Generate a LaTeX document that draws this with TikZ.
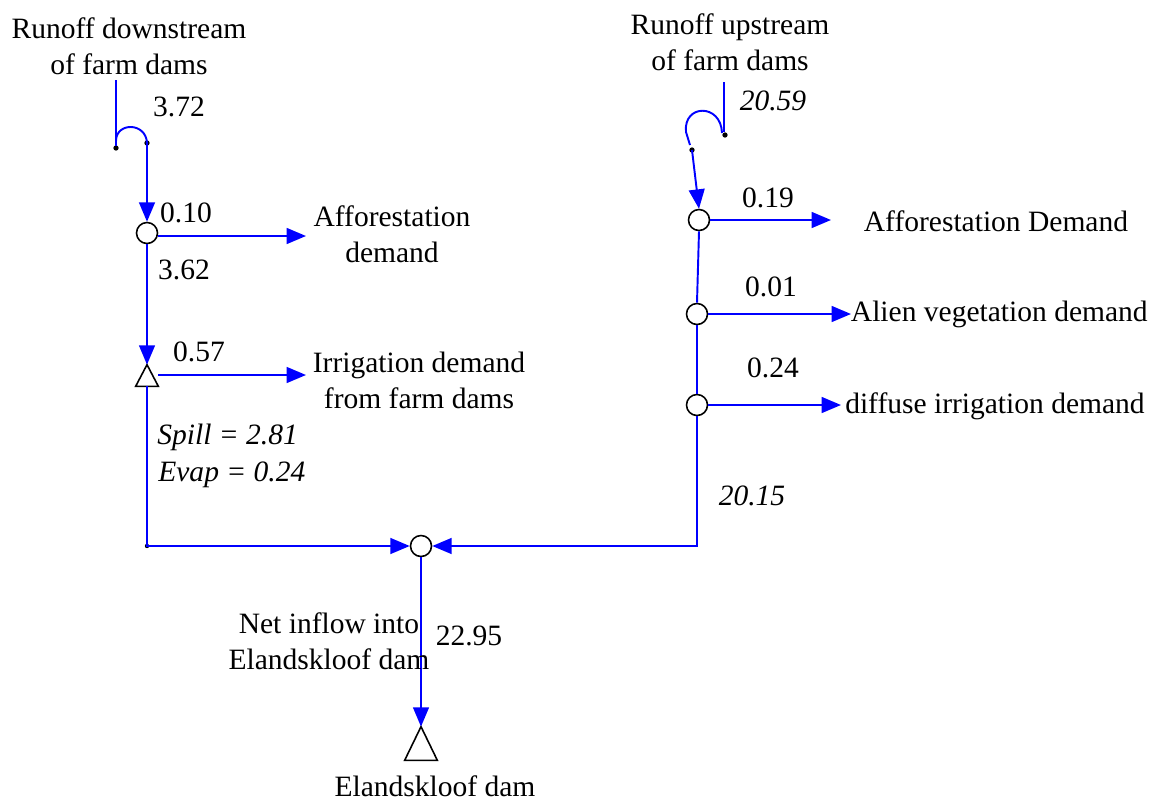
\documentclass[tikz,border=0pt]{standalone}
\usepackage{fontspec}
\setmainfont{Liberation Serif}
\usetikzlibrary{arrows.meta}
\tikzset{
  flow/.style={draw=blue, line width=1.1pt},
  flowarrow/.style={flow, -{Triangle[length=11pt,width=9pt]}},
  junction/.style={circle, draw=black, line width=0.9pt, fill=white, minimum size=0.42cm, inner sep=0pt},
  damnode/.style={draw=none, inner sep=0pt, minimum width=#1},
  lbl/.style={font=\fontsize{16.8}{20.4}\selectfont, align=center, inner sep=0pt},
  ilbl/.style={lbl, font=\fontsize{16.8}{20.4}\selectfont\itshape},
  dot/.style={circle, fill=black, inner sep=0pt, minimum size=3pt},
}
\begin{document}
\begin{tikzpicture}[x=0.02cm, y=-0.02cm]
\useasboundingbox (0,0) rectangle (1150,801);

% ---------- left branch: runoff downstream of farm dams ----------
\node[lbl] (rdown) at (129,46) {Runoff downstream\\of farm dams};
\coordinate (ltop) at (116,80);
\node[dot] (ldot1) at (116,148) {};
\node[dot] (ldot2) at (147,143) {};
\draw[flow] (ltop) -- (116,146);
\draw[flow] (116,141) .. controls (116,122) and (146,122) .. (ldot2.center);
\node[lbl] (v372) at (179,107) {3.72};

\node[junction] (j1) at (147,233) {};
\draw[flowarrow] (ldot2.center) -- (j1.north);
\node[lbl] (v010) at (186,213) {0.10};
\coordinate (afd) at (306,236);
\draw[flowarrow] (j1.east |- afd) -- (afd);
\node[lbl] (afdtxt) at (392,234) {Afforestation\\demand};
\node[lbl] (v362) at (184,270) {3.62};

% farm dams (small triangle)
\node[damnode=0.44cm, minimum height=0.42cm] (fd) at (147,375.5) {};
\draw[line width=0.9pt] (fd.north) -- (fd.south east) -- (fd.south west) -- cycle;
\draw[flowarrow] (j1.south) -- (fd.north);
\coordinate (ird) at (306,375);
\draw[flowarrow] (158,375) -- (ird);
\node[lbl] (v057) at (199,352) {0.57};
\node[lbl] (irdtxt) at (419,380) {Irrigation demand\\from farm dams};
\node[ilbl, anchor=west] (spill) at (157,437) {Spill = 2.81};
\node[ilbl, anchor=west] (evap) at (158,475) {Evap = 0.24};

% ---------- confluence ----------
\node[junction] (jc) at (421,546) {};
\node[dot, minimum size=2.5pt] (lcorner) at (147,546) {};
\draw[flowarrow] (fd.south) -- (lcorner.center) -- (jc.west);

% ---------- right branch: runoff upstream of farm dams ----------
\node[lbl] (rup) at (730,42) {Runoff upstream\\of farm dams};
\coordinate (rtop) at (724,82);
\node[dot] (rdot1) at (725,135) {};
\node[dot] (rdot2) at (692,150) {};
\draw[flow] (rtop) -- (724,132);
\draw[flow] (722,133) .. controls (721,103) and (683,104) .. (686,132) -- (690,145);
\node[ilbl] (v2059) at (773,101) {20.59};

\node[junction] (j2) at (699,220) {};
\draw[flowarrow] (rdot2.center) -- (j2.north);
\node[lbl] (v019) at (768,198) {0.19};
\coordinate (afd2) at (831,220);
\draw[flowarrow] (j2.east) -- (afd2);
\node[lbl] (afd2txt) at (996,221) {Afforestation Demand};

\node[junction] (j3) at (697,314) {};
\draw[flow] (j2.south) -- (j3.north);
\node[lbl] (v001) at (771,287) {0.01};
\coordinate (avd) at (851,314);
\draw[flowarrow] (j3.east) -- (avd);
\node[lbl, anchor=east] (avdtxt) at (1148,314) {Alien vegetation demand};

\node[junction] (j4) at (697,405) {};
\draw[flow] (j3.south) -- (j4.north);
\node[lbl] (v024) at (773,368) {0.24};
\coordinate (did) at (841,405);
\draw[flowarrow] (j4.east) -- (did);
\node[lbl] (didtxt) at (995,406) {diffuse irrigation demand};

\coordinate (rcorner) at (697,546);
\draw[flowarrow] (j4.south) -- (rcorner) -- (jc.east);
\node[ilbl] (v2015) at (752,496) {20.15};

% ---------- Elandskloof dam ----------
\node[damnode=0.64cm, minimum height=0.66cm] (ed) at (421,743.5) {};
\draw[line width=0.9pt] (ed.north) -- (ed.south east) -- (ed.south west) -- cycle;
\draw[flowarrow] (jc.south) -- (ed.north);
\node[lbl] (netin) at (329,641) {Net inflow into\\Elandskloof dam};
\node[lbl] (v2295) at (469,636) {22.95};
\node[lbl] (edtxt) at (435,786) {Elandskloof dam};
\end{tikzpicture}
\end{document}
